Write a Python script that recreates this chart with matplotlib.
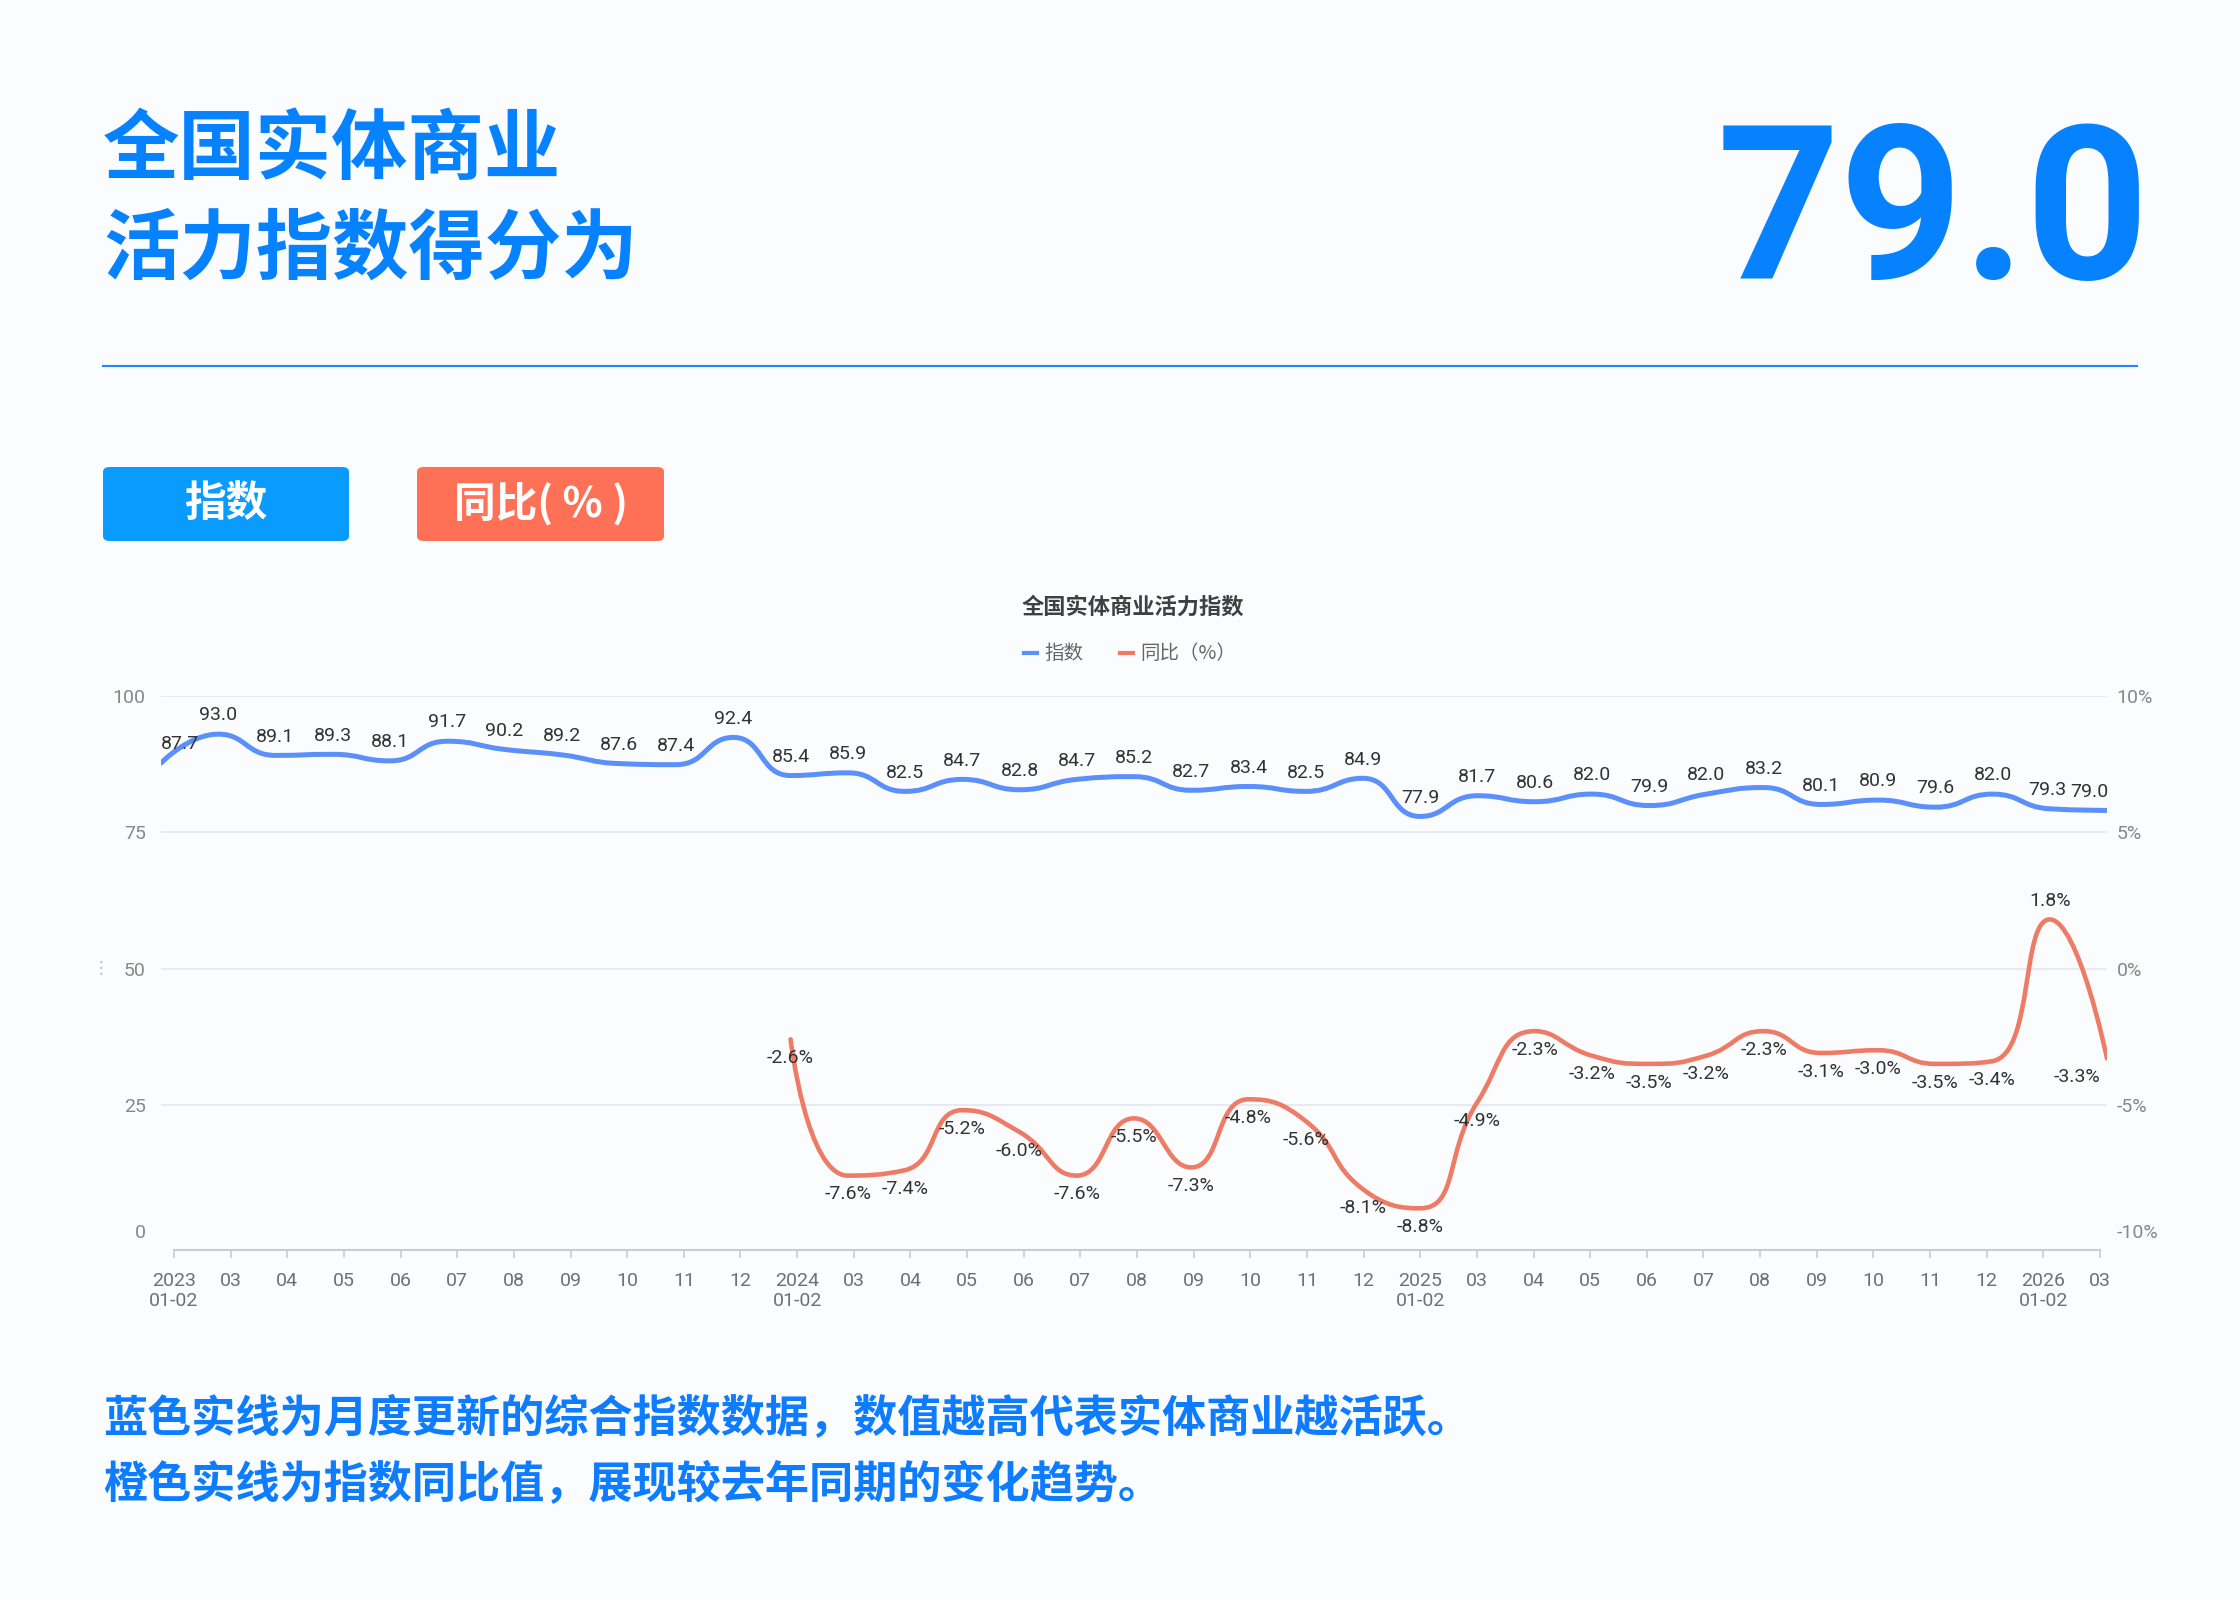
import numpy as np
import matplotlib
matplotlib.use("Agg")
import matplotlib.pyplot as plt
import matplotlib.transforms as mtransforms
from matplotlib.path import Path
from matplotlib.patches import PathPatch, FancyBboxPatch
from matplotlib.lines import Line2D

plt.rcParams['font.family'] = ['Noto Sans CJK SC', 'DejaVu Sans']

# data
x_labels = ['2023\n01-02', '03', '04', '05', '06', '07', '08', '09', '10', '11', '12',
            '2024\n01-02', '03', '04', '05', '06', '07', '08', '09', '10', '11', '12',
            '2025\n01-02', '03', '04', '05', '06', '07', '08', '09', '10', '11', '12',
            '2026\n01-02', '03']
index_vals = [87.7, 93.0, 89.1, 89.3, 88.1, 91.7, 90.2, 89.2, 87.6, 87.4, 92.4,
              85.4, 85.9, 82.5, 84.7, 82.8, 84.7, 85.2, 82.7, 83.4, 82.5, 84.9,
              77.9, 81.7, 80.6, 82.0, 79.9, 82.0, 83.2, 80.1, 80.9, 79.6, 82.0,
              79.3, 79.0]
yoy_start = 11
yoy_vals = [-2.6, -7.6, -7.4, -5.2, -6.0, -7.6, -5.5, -7.3, -4.8, -5.6, -8.1,
            -8.8, -4.9, -2.3, -3.2, -3.5, -3.2, -2.3, -3.1, -3.0, -3.5, -3.4,
            1.8, -3.3]
left_ticks = [0, 25, 50, 75, 100]
right_ticks = [-10, -5, 0, 5, 10]
current_score = index_vals[-1]

W, H = 2240, 1600
BLUE = '#5B8FF9'
ORANGE = '#EE7B65'
TXT_BLUE = '#0782FF'


def fx(x):
    return x / W


def fy(y):
    return 1 - y / H


def smooth_path(ax, xs, ys, s=0.5):
    # echarts-like smooth bezier, computed in pixel space
    pts = ax.transData.transform(np.column_stack([xs, ys]))
    n = len(pts)
    cin = pts.copy()
    cout = pts.copy()
    for i in range(1, n - 1):
        p, pr, nx = pts[i], pts[i - 1], pts[i + 1]
        lp = np.hypot(*(p - pr))
        ln = np.hypot(*(nx - p))
        v = nx - pr
        r = ln / (ln + lp)
        c1 = p + v * s * r
        c1 = np.minimum(c1, np.maximum(nx, p))
        c1 = np.maximum(c1, np.minimum(nx, p))
        c0 = p - (c1 - p) * lp / ln
        c0 = np.minimum(c0, np.maximum(pr, p))
        c0 = np.maximum(c0, np.minimum(pr, p))
        c1 = p + (p - c0) * ln / lp
        cin[i] = c0
        cout[i] = c1
    verts = [pts[0]]
    codes = [Path.MOVETO]
    for i in range(n - 1):
        verts += [cout[i], cin[i + 1], pts[i + 1]]
        codes += [Path.CURVE4] * 3
    verts = ax.transData.inverted().transform(np.array(verts))
    return Path(verts, codes)


fig = plt.figure(figsize=(22.4, 16), dpi=100)
fig.patch.set_facecolor('#FBFCFE')

# header
fig.text(fx(103), fy(150), '全国实体商业', fontsize=55, fontweight='bold',
         color=TXT_BLUE, va='center', ha='left')
fig.text(fx(103), fy(250), '活力指数得分为', fontsize=55, fontweight='bold',
         color=TXT_BLUE, va='center', ha='left')
fig.text(fx(2150), fy(279), f'{current_score:.1f}', fontsize=155, fontweight='bold',
         family='Roboto', color=TXT_BLUE, va='baseline', ha='right')
fig.add_artist(Line2D([fx(103), fx(2137)], [fy(366), fy(366)], color='#1E88FF', lw=1.5))

# buttons
for x0, x1, col, lab in [(103, 349, '#0A9BFF', '指数'), (417, 664, '#FF7157', '同比( % )')]:
    box = FancyBboxPatch((fx(x0), fy(541)), fx(x1 - x0), 74 / H,
                         boxstyle='round,pad=0,rounding_size=0.003',
                         transform=fig.transFigure, fc=col, ec='none')
    fig.add_artist(box)
    fig.text(fx((x0 + x1) / 2), fy(504), lab, fontsize=30, fontweight='bold',
             color='white', ha='center', va='center')

# chart title + legend
fig.text(fx(1133), fy(607), '全国实体商业活力指数', fontsize=16, fontweight='bold',
         color='#404040', ha='center', va='center')
fig.add_artist(Line2D([fx(1024), fx(1037)], [fy(653), fy(653)], color=BLUE, lw=3))
fig.text(fx(1044), fy(653), '指数', fontsize=14, color='#666666', ha='left', va='center')
fig.add_artist(Line2D([fx(1120), fx(1133)], [fy(653), fy(653)], color=ORANGE, lw=3))
fig.text(fx(1140), fy(653), '同比（%）', fontsize=14, color='#666666', ha='left', va='center')

# plot axes
ax = fig.add_axes([fx(161), fy(1241), fx(2107 - 161), (1241 - 696) / H])
ax.set_facecolor('none')
ax.set_xlim(0, len(x_labels) - 1)
ax.set_ylim(0, 100)
for sp in ax.spines.values():
    sp.set_visible(False)
ax.set_xticks([])
ax.set_yticks(left_ticks)
ax.set_yticklabels([str(t) for t in left_ticks], family='Roboto', fontsize=14, color='#888888')
ax.tick_params(axis='y', length=0, pad=11)
for t in left_ticks[1:]:
    ax.axhline(t, color='#E3E7EF', lw=1.2, zorder=0)

ax2 = ax.twinx()
ax2.set_ylim(-10, 10)
for sp in ax2.spines.values():
    sp.set_visible(False)
ax2.set_yticks(right_ticks)
ax2.set_yticklabels([f'{t}%' for t in right_ticks], family='Roboto', fontsize=14, color='#888888')
ax2.tick_params(axis='y', length=0, pad=7)

# bottom labels sit a little above the axis line
lift = mtransforms.ScaledTranslation(0, 7 / 72, fig.dpi_scale_trans)
for lab in (ax.get_yticklabels()[0], ax2.get_yticklabels()[0]):
    lab.set_transform(lab.get_transform() + lift)

xs_idx = np.arange(len(index_vals))
ax.add_patch(PathPatch(smooth_path(ax, xs_idx, index_vals), fc='none', ec=BLUE, lw=3.6,
                       capstyle='round', joinstyle='round', zorder=3))
xs_yoy = np.arange(yoy_start, yoy_start + len(yoy_vals))
ax2.add_patch(PathPatch(smooth_path(ax2, xs_yoy, yoy_vals), fc='none', ec=ORANGE, lw=3.3,
                        capstyle='round', joinstyle='round', zorder=3))

last = len(x_labels) - 1
for x, v in zip(xs_idx, index_vals):
    ha, dx = 'center', 0
    if x == 0:
        ha = 'left'
    elif x == last - 1:
        dx = -2
    elif x == last:
        ha, dx = 'right', 1
    ax.annotate(f'{v:.1f}', (x, v), xytext=(dx, 13.5), textcoords='offset points',
                ha=ha, va='center', fontsize=14, family='Roboto', color='#333333', zorder=5)
for x, v in zip(xs_yoy, yoy_vals):
    ha, dx = 'center', 0
    if x == last:
        ha, dx = 'right', -5
    dy = 13.5 if v > 0 else -13.5
    ax2.annotate(f'{v:.1f}%', (x, v), xytext=(dx, dy), textcoords='offset points',
                 ha=ha, va='center', fontsize=14, family='Roboto', color='#333333', zorder=5)

# category axis
axx = fig.add_axes([fx(174), fy(1250), fx(2100 - 174), 0.0001])
axx.set_facecolor('none')
axx.set_xlim(0, len(x_labels) - 1)
for k in ['left', 'right', 'top']:
    axx.spines[k].set_visible(False)
axx.spines['bottom'].set_color('#C9CCD4')
axx.spines['bottom'].set_linewidth(1.5)
axx.set_yticks([])
axx.set_xticks(range(len(x_labels)))
axx.set_xticklabels(x_labels, family='Roboto', fontsize=14, color='#6E7079', linespacing=1.15)
axx.tick_params(axis='x', length=6, width=1.2, color='#C9CCD4', pad=10)

# clipped axis name mark
fig.text(fx(101), fy(968), '⋮', fontsize=12, color='#BBBBBB', ha='center', va='center',
         family='DejaVu Sans')

# footer
fig.text(fx(103), fy(1418), '蓝色实线为月度更新的综合指数数据，数值越高代表实体商业越活跃。',
         fontsize=31.8, fontweight='bold', color='#0D7CFF', ha='left', va='center')
fig.text(fx(103), fy(1484), '橙色实线为指数同比值，展现较去年同期的变化趋势。',
         fontsize=31.8, fontweight='bold', color='#0D7CFF', ha='left', va='center')

fig.savefig('out.png', dpi=100, facecolor=fig.get_facecolor())
